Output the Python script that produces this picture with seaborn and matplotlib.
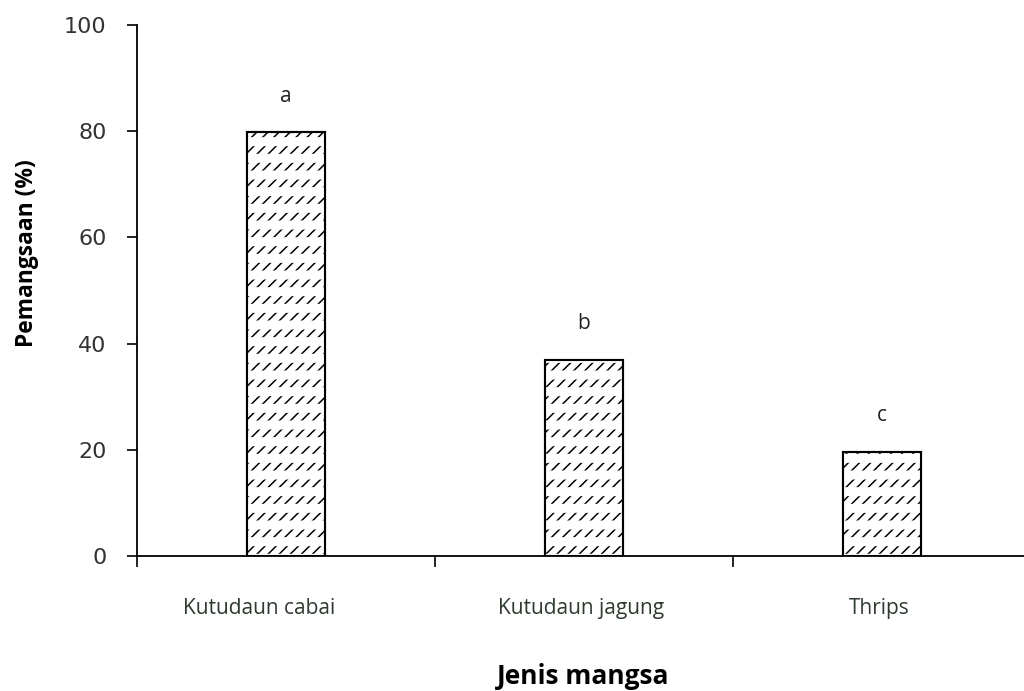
import matplotlib
matplotlib.use("Agg")
import matplotlib.pyplot as plt
import seaborn as sns
import pandas as pd

categories = ["Kutudaun cabai", "Kutudaun jagung", "Thrips"]
values = [79.8, 37.0, 19.6]
letters = ["a", "b", "c"]
yticks = [0, 20, 40, 60, 80, 100]

sns.set_theme(style="white")
plt.rcParams["font.family"] = ["Open Sans", "DejaVu Sans"]
plt.rcParams["hatch.linewidth"] = 1.1

df = pd.DataFrame({"cat": categories, "val": values})

fig = plt.figure(figsize=(10.24, 6.91), dpi=100)
ax = fig.add_axes([137 / 1024, 1 - 556 / 691, 894 / 1024, 531 / 691])

# base bars: diagonal hatch
sns.barplot(data=df, x="cat", y="val", color="white", edgecolor="black",
            linewidth=1.5, width=0.26, hatch="///", ax=ax, saturation=1)
n0 = len(ax.patches)
# overlay: white horizontal stripes to break the diagonals into dashes
sns.barplot(data=df, x="cat", y="val", color="white", edgecolor="white",
            linewidth=0, width=0.26, ax=ax, saturation=1)
for p in ax.patches[n0:]:
    p.set_facecolor("none")
    p.set_edgecolor("white")
    p.set_hatch("-")
    p.set_linewidth(0)
    if hasattr(p, "set_hatch_linewidth"):
        p.set_hatch_linewidth(6.5)
n1 = len(ax.patches)
# outline again
sns.barplot(data=df, x="cat", y="val", color="white", edgecolor="black",
            linewidth=1.5, width=0.26, ax=ax, saturation=1)
for p in ax.patches[n1:]:
    p.set_facecolor("none")

for i, (v, l) in enumerate(zip(values, letters)):
    ax.text(i, v + 4.8, l, ha="center", va="bottom", fontsize=15, color="#222222")

ax.set_xlim(-0.5, 2.5)
ax.set_ylim(0, 100)
ax.set_yticks(yticks)
ax.set_yticklabels([str(t) for t in yticks])

ax.set_xticks([-0.5, 0.5, 1.5, 2.5])
ax.set_xticklabels([])
for i, c in enumerate(categories):
    ax.text(i - (0.09 if i == 0 else 0.01), -9.8, c, ha="center", va="center",
            fontsize=15, color="#2f3a2f", transform=ax.transData)

ax.tick_params(axis="y", direction="out", length=7, width=1.2, pad=15,
               labelsize=16, labelcolor="#333333", left=True, color="black")
for t in ax.get_yticklabels():
    t.set_fontfamily(["DejaVu Sans"])
ax.tick_params(axis="x", direction="out", length=8, width=1.2, bottom=True, color="black")

for s in ["top", "right"]:
    ax.spines[s].set_visible(False)
for s in ["left", "bottom"]:
    ax.spines[s].set_color("black")
    ax.spines[s].set_linewidth(1.3)

ax.set_xlabel("")
ax.set_ylabel("")
fig.text(27 / 1024, 1 - 253 / 691, "Pemangsaan (%)", rotation=90, ha="center", va="center",
         fontsize=16.4, fontweight="bold", color="black")
fig.text(583 / 1024, 1 - 676 / 691, "Jenis mangsa", ha="center", va="center",
         fontsize=19, fontweight="bold", color="black")

fig.savefig("out.png", dpi=100)
